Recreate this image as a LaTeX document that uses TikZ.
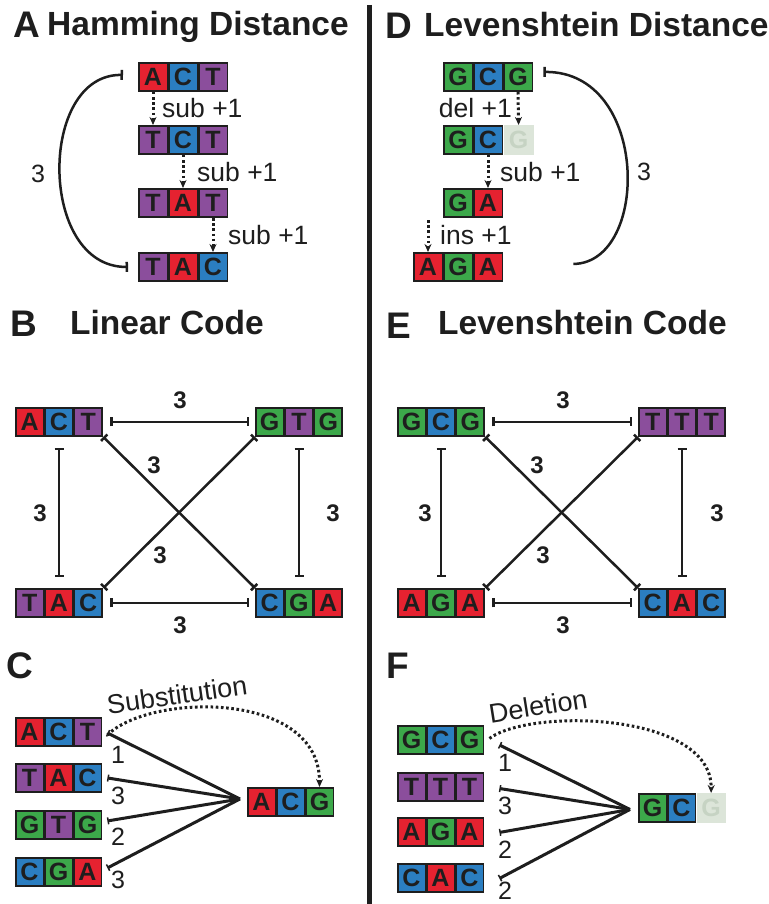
\documentclass[tikz,border=0pt]{standalone}
\usepackage{fontspec}
\setmainfont{Liberation Sans}
\usetikzlibrary{arrows.meta,calc}
\definecolor{nred}{HTML}{E52230}
\definecolor{nblue}{HTML}{2B7EC1}
\definecolor{npurple}{HTML}{8B4E9C}
\definecolor{ngreen}{HTML}{3CA84A}
\definecolor{ndark}{HTML}{1E1E1E}
\definecolor{fadebg}{HTML}{DCE5D9}
\definecolor{fadetx}{HTML}{C6D3C3}
\def\cw{30}
\newcommand{\dna}[5]{%
  \node[blk, minimum width={#2*\cw}, anchor=north west] (#1) at (#3,#4) {};
  \foreach \cc/\lt [count=\ii] in {#5} {
    \node[cell, fill=\cc, minimum width={\cw-3}] (#1-\ii) at ($(#1.west)+({(\ii-0.5)*\cw},0)$) {\lt};
  }%
}
\tikzset{
  blk/.style={fill=ndark, draw=none, inner sep=0, minimum height=29.5pt},
  cell/.style={draw=none, inner sep=0, minimum height=26pt, text=ndark, font=\fontsize{25}{25}\selectfont\bfseries},
  faded/.style={fill=fadebg, draw=none, text=fadetx, inner sep=0, minimum width={\cw}, minimum height=29.5pt, anchor=west, font=\fontsize{25}{25}\selectfont\bfseries},
  ptitle/.style={anchor=base west, inner sep=0, text=ndark, font=\fontsize{33.5}{36}\selectfont\bfseries},
  pletter/.style={anchor=base west, inner sep=0, text=ndark, font=\fontsize{37}{40}\selectfont\bfseries},
  edgelab/.style={inner sep=0, text=ndark, font=\fontsize{24}{24}\selectfont\bfseries},
  oplab/.style={inner sep=0, text=ndark, font=\fontsize{26.5}{26}\selectfont},
  numlab/.style={inner sep=0, text=ndark, font=\fontsize{25}{25}\selectfont},
  curvelab/.style={inner sep=0, text=ndark, font=\fontsize{27}{27}\selectfont},
  barline/.style={line width=2.5pt, draw=ndark, {Bar[width=9pt]}-{Bar[width=9pt]}},
  arcln/.style={line width=2.5pt, draw=ndark},
  fanline/.style={line width=3pt, draw=ndark, {Bar[width=7pt,line width=1.5pt]}-},
  dotarr/.style={line width=3pt, draw=ndark, dash pattern=on 2.6pt off 2.6pt, -{Stealth[length=8pt,width=7pt]}},
}
\begin{document}
\begin{tikzpicture}[x=1pt,y=-1pt]
\fill[white] (0,0) rectangle (768,904);
\useasboundingbox (0,0) rectangle (768,904);

% divider
\coordinate (divT) at (369,5);
\coordinate (divB) at (369,904);
\draw[line width=5pt, ndark] (divT) -- (divB);

% ---------------- A ----------------
\node[pletter] (lA) at (13,38) {A};
\node[ptitle] (tA) at (47,36) {Hamming Distance};
\def\cw{30}
\dna{a1}{3}{138}{62}{nred/A,nblue/C,npurple/T}
\dna{a2}{3}{138}{125}{npurple/T,nblue/C,npurple/T}
\dna{a3}{3}{138}{188}{npurple/T,nred/A,npurple/T}
\dna{a4}{3}{138}{252}{npurple/T,nred/A,nblue/C}
\draw[dotarr] (a1.south -| a1-1) -- (a2.north -| a1-1);
\draw[dotarr] (a2.south -| a2-2) -- (a3.north -| a2-2);
\draw[dotarr] (a3.south -| a3-3) -- (a4.north -| a3-3);
\node[oplab, anchor=west] (sa1) at (162,108) {sub +1};
\node[oplab, anchor=west] (sa2) at (197,172) {sub +1};
\node[oplab, anchor=west] (sa3) at (228,235) {sub +1};
\draw[arcln, {Bar[width=10pt]}-{Bar[width=10pt]}] ($(a1.west)+(-15,-2)$) .. controls (38,74) and (38,267) .. ($(a4.west)+(-10,0)$);
\node[numlab] (na) at (38,174) {3};

% ---------------- D ----------------
\node[pletter] (lD) at (385,39) {D};
\node[ptitle] (tD) at (424,37) {Levenshtein Distance};
\dna{d1}{3}{443}{62}{ngreen/G,nblue/C,ngreen/G}
\dna{d2}{2}{443}{125}{ngreen/G,nblue/C}
\node[faded] (d2f) at (d2.east) {G};
\dna{d3}{2}{443}{188}{ngreen/G,nred/A}
\dna{d4}{3}{413}{252}{nred/A,ngreen/G,nred/A}
\draw[dotarr] (d1.south -| d1-3) -- (d2f.north);
\draw[dotarr] (d2.south -| d2-2) -- (d3.north -| d2-2);
\coordinate (insS) at ($(d4.north -| d4-1)+(0,-32)$);
\draw[dotarr] (insS) -- (d4.north -| d4-1);
\node[oplab, anchor=east] (sd1) at (512,108) {del +1};
\node[oplab, anchor=west] (sd2) at (500,172) {sub +1};
\node[oplab, anchor=west] (sd3) at (440,235) {ins +1};
\draw[arcln, {Bar[width=10pt]}-] ($(d1.east)+(10,-5)$) .. controls (650,71) and (650,263) .. ($(d4.east)+(70,-3)$);
\node[numlab] (nd) at (644,172) {3};

% ---------------- B ----------------
\node[pletter] (lB) at (10,336) {B};
\node[ptitle] (tB) at (70,334) {Linear Code};
\def\cw{29.3}
\dna{b1}{3}{15}{407}{nred/A,nblue/C,npurple/T}
\dna{b2}{3}{255}{407}{ngreen/G,npurple/T,ngreen/G}
\dna{b3}{3}{15}{588}{npurple/T,nred/A,nblue/C}
\dna{b4}{3}{255}{588}{nblue/C,ngreen/G,nred/A}
\draw[barline, shorten <=7pt, shorten >=6pt] (b1.east) -- (b2.west);
\draw[barline, shorten <=7pt, shorten >=6pt] (b3.east) -- (b4.west);
\draw[barline, shorten <=11pt, shorten >=11pt] (b1.south) -- (b3.north);
\draw[barline, shorten <=11pt, shorten >=11pt] (b2.south) -- (b4.north);
\draw[barline] (b1.south east) -- (b4.north west);
\draw[barline] (b2.south west) -- (b3.north east);
\node[edgelab] (eb1) at (180,400) {3};
\node[edgelab] (eb2) at (40,513) {3};
\node[edgelab] (eb3) at (333,513) {3};
\node[edgelab] (eb4) at (154,465) {3};
\node[edgelab] (eb5) at (160,555) {3};
\node[edgelab] (eb6) at (180,625) {3};

% ---------------- E ----------------
\node[pletter] (lE) at (386,338) {E};
\node[ptitle] (tE) at (438,334) {Levenshtein Code};
\dna{e1}{3}{397}{407}{ngreen/G,nblue/C,ngreen/G}
\dna{e2}{3}{638}{407}{npurple/T,npurple/T,npurple/T}
\dna{e3}{3}{397}{588}{nred/A,ngreen/G,nred/A}
\dna{e4}{3}{638}{588}{nblue/C,nred/A,nblue/C}
\draw[barline, shorten <=7pt, shorten >=6pt] (e1.east) -- (e2.west);
\draw[barline, shorten <=7pt, shorten >=6pt] (e3.east) -- (e4.west);
\draw[barline, shorten <=11pt, shorten >=11pt] (e1.south) -- (e3.north);
\draw[barline, shorten <=11pt, shorten >=11pt] (e2.south) -- (e4.north);
\draw[barline] (e1.south east) -- (e4.north west);
\draw[barline] (e2.south west) -- (e3.north east);
\node[edgelab] (ee1) at (563,400) {3};
\node[edgelab] (ee2) at (425,513) {3};
\node[edgelab] (ee3) at (717,513) {3};
\node[edgelab] (ee4) at (537,465) {3};
\node[edgelab] (ee5) at (543,555) {3};
\node[edgelab] (ee6) at (563,625) {3};

% ---------------- C ----------------
\node[pletter] (lC) at (6,678) {C};
\def\cw{29}
\dna{c1}{3}{15}{717}{nred/A,nblue/C,npurple/T}
\dna{c2}{3}{15}{763}{npurple/T,nred/A,nblue/C}
\dna{c3}{3}{15}{810}{ngreen/G,npurple/T,ngreen/G}
\dna{c4}{3}{15}{857}{nblue/C,ngreen/G,nred/A}
\dna{ct}{3}{247}{787}{nred/A,nblue/C,ngreen/G}
\coordinate (cv) at ($(ct.west)+(-7,-3)$);
\draw[fanline] ($(c1.east)+(5,1)$) -- (cv);
\draw[fanline] ($(c2.east)+(5,0)$) -- (cv);
\draw[fanline] ($(c3.east)+(5,-4)$) -- (cv);
\draw[fanline] ($(c4.east)+(5,-4)$) -- (cv);
\node[numlab] (nc1) at (118,755) {1};
\node[numlab] (nc2) at (118,796) {3};
\node[numlab] (nc3) at (118,837) {2};
\node[numlab] (nc4) at (118,880) {3};
\draw[dotarr] ($(c1.east)+(5,3)$) .. controls (150,693) and (320,690) .. (ct.north -| ct-3);
\node[curvelab, rotate=8] (subl) at (177,695) {Substitution};

% ---------------- F ----------------
\node[pletter] (lF) at (386,678) {F};
\dna{f1}{3}{397}{725}{ngreen/G,nblue/C,ngreen/G}
\dna{f2}{3}{397}{772}{npurple/T,npurple/T,npurple/T}
\dna{f3}{3}{397}{817}{nred/A,ngreen/G,nred/A}
\dna{f4}{3}{397}{863}{nblue/C,nred/A,nblue/C}
\dna{ft}{2}{638}{793}{ngreen/G,nblue/C}
\node[faded] (ftf) at (ft.east) {G};
\coordinate (fv) at ($(ft.west)+(-8,1.5)$);
\draw[fanline] ($(f1.east)+(15,5)$) -- (fv);
\draw[fanline] ($(f2.east)+(15,1.5)$) -- (fv);
\draw[fanline] ($(f3.east)+(15,0.5)$) -- (fv);
\draw[fanline] ($(f4.east)+(15,0.5)$) -- (fv);
\node[numlab] (nf1) at (505,763) {1};
\node[numlab] (nf2) at (505,806) {3};
\node[numlab] (nf3) at (505,850) {2};
\node[numlab] (nf4) at (505,891) {2};
\draw[dotarr] ($(f1.east)+(5,-1.5)$) .. controls (530,708) and (712,712) .. (ftf.north);
\node[curvelab, rotate=9] (dell) at (538,706) {Deletion};
\end{tikzpicture}
\end{document}
